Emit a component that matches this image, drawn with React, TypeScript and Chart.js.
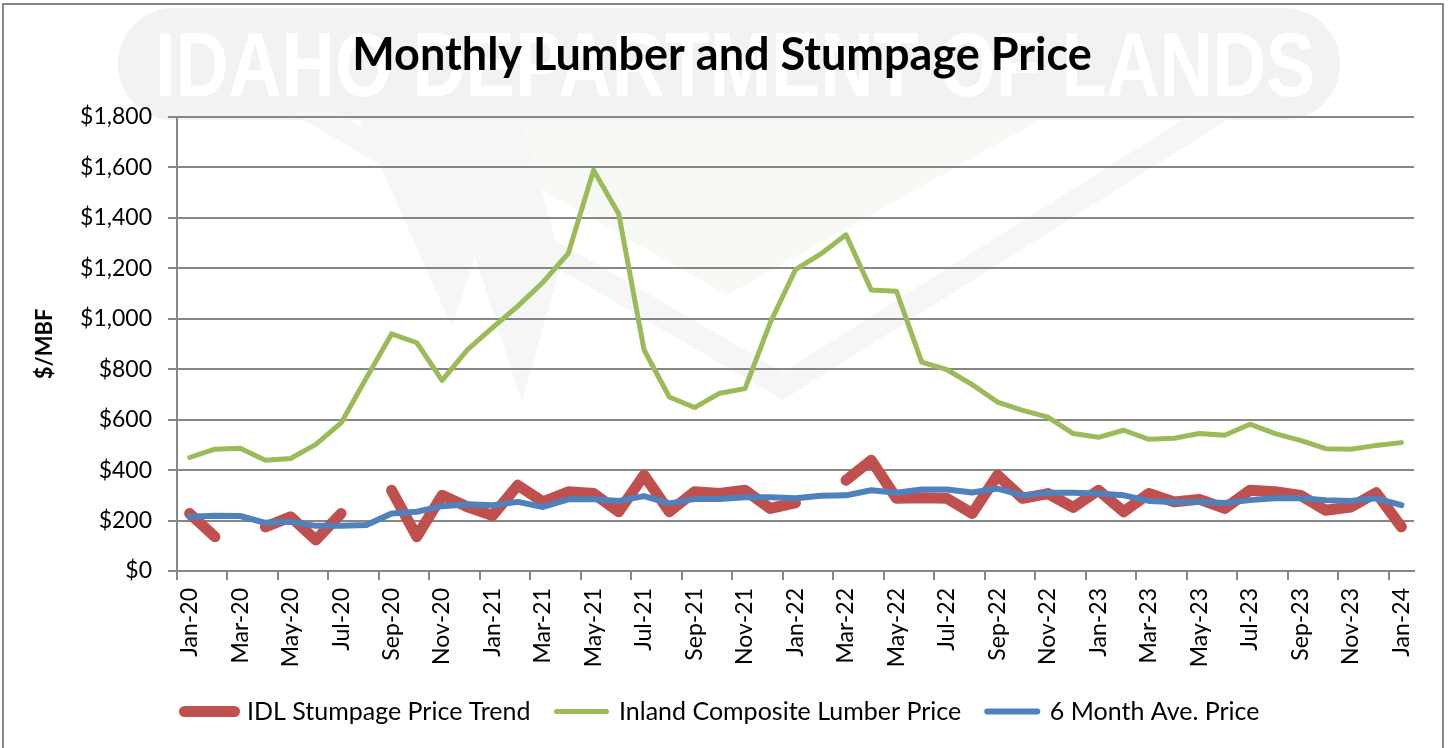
import React, { useEffect, useRef } from 'react';
import { Chart, registerables } from 'chart.js';

Chart.register(...registerables);

const months = [
  'Jan-20', 'Feb-20', 'Mar-20', 'Apr-20', 'May-20', 'Jun-20', 'Jul-20', 'Aug-20', 'Sep-20', 'Oct-20', 'Nov-20', 'Dec-20',
  'Jan-21', 'Feb-21', 'Mar-21', 'Apr-21', 'May-21', 'Jun-21', 'Jul-21', 'Aug-21', 'Sep-21', 'Oct-21', 'Nov-21', 'Dec-21',
  'Jan-22', 'Feb-22', 'Mar-22', 'Apr-22', 'May-22', 'Jun-22', 'Jul-22', 'Aug-22', 'Sep-22', 'Oct-22', 'Nov-22', 'Dec-22',
  'Jan-23', 'Feb-23', 'Mar-23', 'Apr-23', 'May-23', 'Jun-23', 'Jul-23', 'Aug-23', 'Sep-23', 'Oct-23', 'Nov-23', 'Dec-23',
  'Jan-24',
];

const stumpagePrice = [
  228, 136, null, 175, 215, 123, 228, null, 320, 136, 300, 255,
  220, 340, 274, 314, 307, 235, 380, 235, 314, 307, 320, 248,
  270, null, 360, 439, 288, 290, 288, 228, 380, 288, 307, 252,
  320, 235, 307, 274, 284, 248, 320, 314, 300, 241, 254, 310,
  175,
];

const lumberPrice = [
  450, 483, 487, 439, 446, 502, 587, 765, 940, 905, 756, 877,
  965, 1050, 1145, 1259, 1589, 1415, 877, 690, 648, 705, 723, 985,
  1195, 1257, 1333, 1114, 1109, 828, 798, 739, 670, 637, 610, 545,
  530, 558, 522, 526, 545, 538, 582, 545, 518, 485, 483, 498,
  509,
];

const sixMonthAvg = [
  215, 219, 218, 191, 195, 179, 179, 182, 228, 235, 257, 265,
  261, 274, 254, 284, 284, 278, 297, 268, 285, 285, 292, 292,
  288, 298, 300, 320, 310, 323, 323, 311, 327, 300, 310, 310,
  307, 300, 278, 274, 274, 270, 281, 288, 288, 281, 278, 288,
  261,
];

const seriesNames = ['IDL Stumpage Price Trend', 'Inland Composite Lumber Price', '6 Month Ave. Price'];
const titleText = 'Monthly Lumber and Stumpage Price';
const yAxisTitle = '$/MBF';
const watermarkText = 'IDAHO DEPARTMENT OF LANDS';

const FONT = 'Lato, "Open Sans", sans-serif';
const GRID = '#878787';
const RED = '#C0504D';
const GREEN = '#9BBB59';
const BLUE = '#4F81BD';

const backgroundPlugin = {
  id: 'idlBackground',
  beforeDraw(chart: any) {
    const ctx: CanvasRenderingContext2D = chart.ctx;
    ctx.save();
    // watermark pill
    ctx.fillStyle = '#f2f2f2';
    ctx.beginPath();
    (ctx as any).roundRect(118, 8, 1222, 112, 56);
    ctx.fill();
    // faint chevron band
    ctx.fillStyle = '#f6f6f6';
    ctx.beginPath();
    ctx.moveTo(290, 112);
    ctx.lineTo(783, 400);
    ctx.lineTo(1240, 112);
    ctx.lineTo(1195, 112);
    ctx.lineTo(783, 372);
    ctx.lineTo(335, 112);
    ctx.closePath();
    ctx.fill();
    // faint inner tint
    ctx.fillStyle = '#f7f9f4';
    ctx.beginPath();
    ctx.moveTo(420, 120);
    ctx.lineTo(727, 295);
    ctx.lineTo(1040, 120);
    ctx.closePath();
    ctx.fill();
    // faint W
    ctx.fillStyle = '#f5f6f5';
    ctx.beginPath();
    ctx.moveTo(360, 120);
    ctx.lineTo(452, 327);
    ctx.lineTo(475, 257);
    ctx.lineTo(522, 402);
    ctx.lineTo(562, 262);
    ctx.lineTo(520, 120);
    ctx.closePath();
    ctx.fill();
    // watermark text
    ctx.font = 'bold 90px "Liberation Sans", Arial, sans-serif';
    const w = ctx.measureText(watermarkText).width;
    ctx.translate(155, 96);
    ctx.scale(1160 / w, 1);
    ctx.fillStyle = '#ffffff';
    ctx.textBaseline = 'alphabetic';
    ctx.fillText(watermarkText, 0, 0);
    ctx.restore();
    // outer border
    ctx.save();
    ctx.strokeStyle = GRID;
    ctx.lineWidth = 2;
    ctx.strokeRect(3, 4, 1440, 800);
    ctx.restore();
  },
};

export default function App() {
  const ref = useRef<HTMLCanvasElement>(null);

  useEffect(() => {
    if (!ref.current) return;
    const chart = new Chart(ref.current, {
      type: 'line',
      data: {
        labels: months,
        datasets: [
          {
            label: seriesNames[0],
            data: stumpagePrice,
            borderColor: RED,
            backgroundColor: RED,
            borderWidth: 11,
            order: 2,
          },
          {
            label: seriesNames[1],
            data: lumberPrice,
            borderColor: GREEN,
            backgroundColor: GREEN,
            borderWidth: 5,
            order: 1,
          },
          {
            label: seriesNames[2],
            data: sixMonthAvg,
            borderColor: BLUE,
            backgroundColor: BLUE,
            borderWidth: 6,
            order: 0,
          },
        ],
      },
      options: {
        responsive: false,
        animation: false,
        devicePixelRatio: 1,
        spanGaps: false,
        elements: {
          point: { radius: 0, hoverRadius: 0 },
          line: { tension: 0, borderJoinStyle: 'round', borderCapStyle: 'round', fill: false },
        },
        layout: { padding: { left: 30, right: 34, top: 0, bottom: 14 } },
        scales: {
          x: {
            type: 'category',
            offset: true,
            afterFit: (scale: any) => { scale.height = 102; },
            grid: {
              offset: true,
              drawOnChartArea: false,
              drawTicks: true,
              tickLength: 9,
              lineWidth: 2,
              color: (ctx: any) => (ctx.type === 'tick' && ctx.index % 2 === 0 ? GRID : 'rgba(0,0,0,0)'),
            },
            border: { display: true, color: GRID, width: 2 },
            ticks: {
              autoSkip: false,
              maxRotation: 90,
              minRotation: 90,
              padding: 8,
              color: '#000',
              font: { family: FONT, size: 23 },
              callback: (_v: any, i: number) => (i % 2 === 0 ? months[i] : ''),
            },
          },
          y: {
            min: 0,
            max: 1800,
            afterFit: (scale: any) => { scale.width = 147; },
            grid: { color: GRID, lineWidth: 2, tickLength: 9, drawTicks: true },
            border: { display: true, color: GRID, width: 2 },
            ticks: {
              stepSize: 200,
              padding: 16,
              color: '#000',
              font: { family: FONT, size: 23 },
              callback: (v: any) => '$' + Number(v).toLocaleString('en-US'),
            },
            title: {
              display: true,
              text: yAxisTitle,
              color: '#000',
              font: { family: FONT, size: 22, weight: 'bold' },
              padding: { top: 2, bottom: 0 },
            },
          },
        },
        plugins: {
          title: {
            display: true,
            text: titleText,
            color: '#000',
            font: { family: FONT, size: 45, weight: 'bold' },
            padding: { top: 28, bottom: 35 },
          },
          legend: {
            display: true,
            position: 'bottom',
            labels: {
              usePointStyle: true,
              pointStyleWidth: 50,
              padding: 26,
              color: '#000',
              font: { family: FONT, size: 25 },
              generateLabels: (c: any) =>
                c.data.datasets.map((ds: any, i: number) => ({
                  text: ds.label,
                  fillStyle: ds.borderColor,
                  strokeStyle: ds.borderColor,
                  lineWidth: ds.borderWidth,
                  lineCap: 'round',
                  pointStyle: 'line',
                  hidden: false,
                  datasetIndex: i,
                  fontColor: '#000',
                })),
            },
          },
          tooltip: { enabled: false },
        },
      },
      plugins: [backgroundPlugin],
    } as any);
    return () => chart.destroy();
  }, []);

  return (
    <div style={{ position: 'fixed', left: 0, top: 0, width: 1448, height: 748, background: '#fff' }}>
      <canvas ref={ref} width={1448} height={748} style={{ display: 'block' }} />
    </div>
  );
}
